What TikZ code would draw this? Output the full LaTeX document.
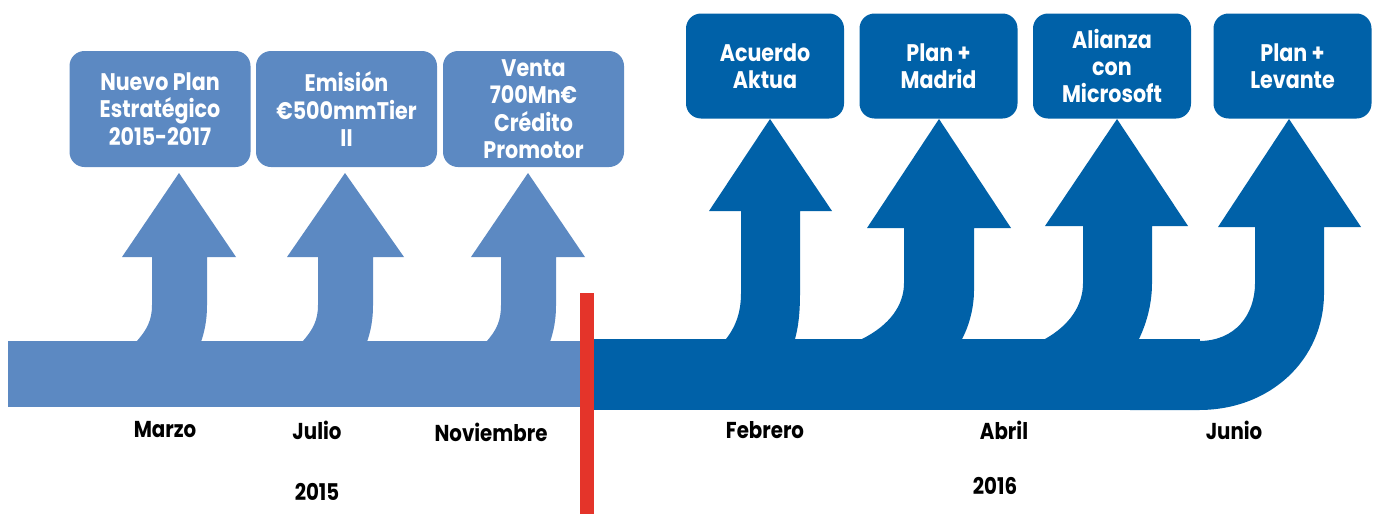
\documentclass[tikz,border=0pt]{standalone}
\usepackage{fontspec}
\setmainfont{Poppins}[FakeStretch=0.86]
\definecolor{lightb}{RGB}{92,137,194}
\definecolor{darkb}{RGB}{0,97,168}
\definecolor{redl}{RGB}{228,52,42}
\begin{document}
\begin{tikzpicture}[x=0.5pt,y=-0.5pt,
  box/.style={rounded corners=7.5pt,inner sep=0pt,text=white,align=center,
    font=\bfseries\fontsize{12}{13.7}\selectfont},
  lbox/.style={box,fill=lightb,minimum width=90.5pt,minimum height=58pt},
  dbox/.style={box,fill=darkb,minimum width=79pt,minimum height=52.5pt},
  lab/.style={font=\bfseries\fontsize{11.5}{12}\selectfont,text=black,inner sep=0pt}]
\useasboundingbox (0,0) rectangle (1374,514);
% light band and arrows
\fill[lightb] (8,341) rectangle (581,407);
\fill[lightb] (136,342) .. controls (147,330) and (152,320) .. (152,305) -- (152,257) -- (122,257) -- (179,173) -- (236,257) -- (207,257) -- (207,305) .. controls (207,322) and (204,333) .. (201,342) -- cycle;
\fill[lightb] (302,342) .. controls (313,330) and (318,320) .. (318,305) -- (318,257) -- (287,257) -- (345,173) -- (404,257) -- (373,257) -- (373,305) .. controls (373,322) and (370,333) .. (367,342) -- cycle;
\fill[lightb] (486,342) .. controls (497,330) and (501,320) .. (501,305) -- (501,257) -- (471,257) -- (528,173) -- (585,257) -- (556,257) -- (556,305) .. controls (556,322) and (553,333) .. (550,342) -- cycle;
% dark band and arrows
\fill[darkb] (593,339) rectangle (1200,410);
\fill[darkb] (726,339) .. controls (737,325) and (741,310) .. (741,293) -- (741,211) -- (709,211) -- (770,119) -- (832,211) -- (800,211) -- (800,293) .. controls (800,315) and (798,328) .. (795,339) -- cycle;
\fill[darkb] (862,339) .. controls (890,325) and (904,305) .. (904,283) -- (904,228) -- (867,228) -- (939,119) -- (1011,228) -- (974,228) -- (974,290) .. controls (974,310) and (968,328) .. (962,339) -- cycle;
\fill[darkb] (1045,339) .. controls (1070,325) and (1083,305) .. (1083,283) -- (1083,226) -- (1045,226) -- (1117,119) -- (1188,226) -- (1152,226) -- (1152,283) .. controls (1152,305) and (1146,325) .. (1138,341) -- cycle;
\fill[darkb] (1130,341) -- (1199,341) .. controls (1235,341) and (1255,315) .. (1255,283) -- (1255,227) -- (1218,227) -- (1289,119) -- (1361,227) -- (1324,227) -- (1324,293) .. controls (1324,360) and (1270,410) .. (1199,410) -- (1130,410) -- cycle;
% red divider
\fill[redl] (580,293) rectangle (594,514);
% boxes
\node[lbox] (b1) at (160,109) {Nuevo Plan\\Estratégico\\2015-2017};
\node[lbox] (b2) at (346.5,109) {Emisión\\€500mmTier\\II};
\node[lbox] (b3) at (533.5,109) {Venta\\700Mn€\\Crédito\\Promotor};
\node[dbox] (d1) at (765,66) {Acuerdo\\Aktua};
\node[dbox] (d2) at (938.5,66) {Plan +\\Madrid};
\node[dbox] (d3) at (1112,66) {Alianza\\con\\Microsoft};
\node[dbox] (d4) at (1292.5,66) {Plan +\\Levante};
% labels
\node[lab] (m1) at (165,430) {Marzo};
\node[lab] (m2) at (317,430) {Julio};
\node[lab] (m3) at (491,432) {Noviembre};
\node[lab] (m4) at (765,430) {Febrero};
\node[lab] (m5) at (1004,430) {Abril};
\node[lab] (m6) at (1234,430) {Junio};
\node[lab] (y1) at (317,492) {2015};
\node[lab] (y2) at (995,486) {2016};
\end{tikzpicture}
\end{document}
